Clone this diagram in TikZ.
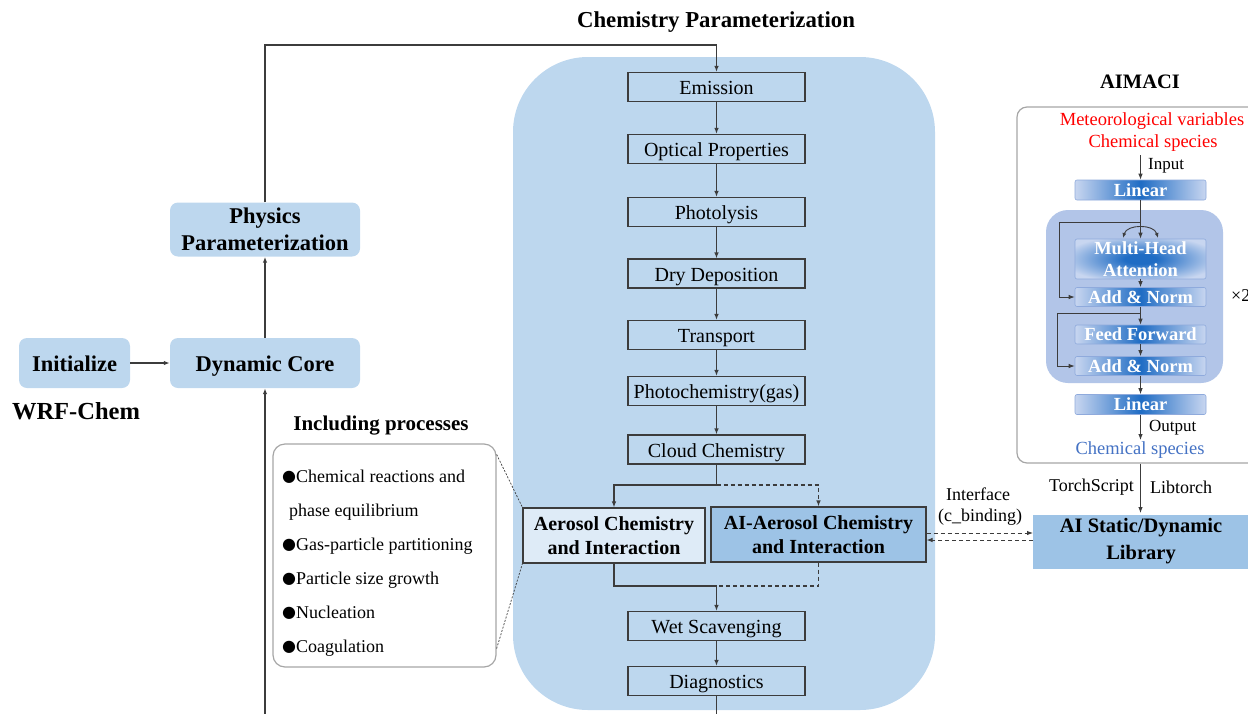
\documentclass[tikz,border=0pt]{standalone}
\usepackage{fontspec}
\setmainfont{Liberation Serif}
\newfontfamily\symfont{DejaVu Sans}
\usetikzlibrary{arrows.meta,calc}
\definecolor{bgblue}{HTML}{BDD7EE}
\definecolor{aiblue}{HTML}{9DC3E6}
\definecolor{lightbox}{HTML}{DEEBF7}
\definecolor{innerblue}{HTML}{B2C5E8}
\definecolor{gradlight}{HTML}{C8D6F0}
\definecolor{graddark}{HTML}{1F6CC4}
\definecolor{gradborder}{HTML}{8FAADC}
\definecolor{linegray}{HTML}{3C3C3C}
\definecolor{redtxt}{HTML}{FF0000}
\definecolor{bluetxt}{HTML}{4472C4}
\definecolor{boxgray}{HTML}{A6A6A6}
\pgfdeclareradialshading{mhashade}{\pgfpoint{0bp}{0bp}}{color(0bp)=(graddark); color(6bp)=(graddark); color(30bp)=(gradlight); color(50bp)=(gradlight)}
\newcommand\myfs[2]{\fontsize{#1}{#2}\selectfont}
\newcommand\bul{\raisebox{1pt}{\symfont\myfs{16}{16}●}}
\begin{document}
\begin{tikzpicture}[x=1pt,y=-1pt,
  tip/.style={-{Latex[length=6pt,width=4.5pt]}},
  conn/.style={draw=linegray, line width=1.2pt, tip},
  plain/.style={draw=linegray, line width=1.2pt},
  dashline/.style={dash pattern=on 4pt off 3pt},
  proc/.style={draw=linegray, line width=1.1pt, fill=bgblue, minimum width=177pt, minimum height=29pt, inner sep=0pt, text height=15.6pt, text depth=0pt, font={\myfs{20}{24}}},
  aerbox/.style={draw=linegray, line width=1.1pt, minimum height=55pt, inner sep=0pt, align=center, font={\bfseries\myfs{20}{24}}},
  lnode/.style={fill=bgblue, rounded corners=8pt, minimum height=50pt, inner sep=0pt, align=center, font={\bfseries\myfs{22.5}{27}}},
  gbox/.style={draw=gradborder, line width=0.6pt, rounded corners=2pt, left color=gradlight, right color=gradlight, middle color=graddark, text=white, minimum width=131pt, minimum height=19pt, inner sep=0pt, align=center, font={\bfseries\myfs{18.5}{22}}},
  small/.style={font={\myfs{17}{20}}, inner sep=0pt},
  listtxt/.style={anchor=base west, inner sep=0pt, font={\myfs{18}{20}}},
  dotline/.style={draw=linegray, line width=0.7pt, dash pattern=on 2pt off 1.5pt}
]
\useasboundingbox (0,0) rectangle (1248,713);

% ---------- Chemistry parameterization ----------
\node[fill=bgblue, rounded corners=75pt, minimum width=422pt, minimum height=653pt, inner sep=0pt] (chem) at (724,383.5) {};
\node[inner sep=0pt, font={\bfseries\myfs{22.8}{26}}] (ctitle) at (716,22) {Chemistry Parameterization};

\node[proc] (emis)  at (716.5,87)    {Emission};
\node[proc] (opt)   at (716.5,149)   {Optical Properties};
\node[proc] (phot)  at (716.5,212)   {Photolysis};
\node[proc] (dry)   at (716.5,273.5) {Dry Deposition};
\node[proc] (trans) at (716.5,335)   {Transport};
\node[proc] (pchem) at (716.5,391)   {Photochemistry(gas)};
\node[proc] (cloud) at (716.5,449.5) {Cloud Chemistry};
\node[proc] (wet)   at (716.5,626)   {Wet Scavenging};
\node[proc] (diag)  at (716.5,681)   {Diagnostics};

\node[aerbox, fill=lightbox, minimum width=182pt] (aer) at (614,535.5) {Aerosol Chemistry\\and Interaction};
\node[aerbox, fill=aiblue, minimum width=215pt] (ai) at (818.5,534.5) {AI-Aerosol Chemistry\\and Interaction};

\draw[conn] (emis) -- (opt);
\draw[conn] (opt) -- (phot);
\draw[conn] (phot) -- (dry);
\draw[conn] (dry) -- (trans);
\draw[conn] (trans) -- (pchem);
\draw[conn] (pchem) -- (cloud);
\coordinate (split) at (716.5,485);
\coordinate (merge) at (716.5,586);
\draw[plain] (cloud.south) -- (split);
\draw[conn] (split) -| (aer.north);
\draw[conn, dashline] (split) -| (ai.north);
\draw[plain] (aer.south) |- (merge);
\draw[plain, dashline] (ai.south) |- (merge);
\draw[conn] (merge) -- (wet.north);
\draw[conn] (wet) -- (diag);
\coordinate (diagend) at (716.5,720);
\draw[plain] (diag.south) -- (diagend);

% ---------- WRF-Chem left ----------
\node[lnode, minimum width=111pt, text height=17.4pt, text depth=0pt] (init) at (74.5,363) {Initialize};
\node[lnode, minimum width=190pt, text height=17.4pt, text depth=0pt] (dyn) at (265,363) {Dynamic Core};
\node[lnode, minimum width=190pt, minimum height=54pt] (phys) at (265,229.5) {Physics\\Parameterization};
\node[inner sep=0pt, font={\bfseries\myfs{24.5}{28}}] (wrf) at (76,411) {WRF-Chem};

\draw[conn] (init) -- (dyn);
\draw[conn] (dyn) -- (phys);
\coordinate (leftbot) at (265,720);
\draw[conn] (leftbot) -- (dyn.south);
\coordinate (topcorner) at (265,45);
\draw[conn] (phys.north) -- (topcorner) -| (emis.north);

% ---------- Including processes ----------
\node[inner sep=0pt, font={\bfseries\myfs{21}{24}}] (inctitle) at (381,426) {Including processes};
\node[draw=boxgray, line width=1.2pt, fill=white, rounded corners=12pt, minimum width=223pt, minimum height=223pt, inner sep=0pt] (list) at (384.5,555.5) {};
\node[listtxt] (li1) at (282,482) {\bul Chemical reactions and};
\node[listtxt] (li2) at (289,516) {phase equilibrium};
\node[listtxt] (li3) at (282,550) {\bul Gas-particle partitioning};
\node[listtxt] (li4) at (282,584) {\bul Particle size growth};
\node[listtxt] (li5) at (282,618) {\bul Nucleation};
\node[listtxt] (li6) at (282,652) {\bul Coagulation};
\draw[dotline] ($(list.north east)+(0,11)$) -- (aer.north west);
\draw[dotline] ($(list.south east)+(0,-19)$) -- (aer.south west);

% ---------- AIMACI ----------
\node[inner sep=0pt, font={\bfseries\myfs{20.5}{24}}] (aimtitle) at (1140,82) {AIMACI};
\node[draw=boxgray, line width=1.2pt, fill=white, rounded corners=10pt, minimum width=248pt, minimum height=356pt, inner sep=0pt] (aim) at (1141,285) {};
\node[fill=innerblue, rounded corners=22pt, minimum width=177pt, minimum height=173pt, inner sep=0pt] (inner) at (1134.5,296.5) {};

\node[inner sep=0pt, text=redtxt, font={\myfs{18.5}{22}}] (met) at (1152,121) {Meteorological variables};
\node[inner sep=0pt, text=redtxt, font={\myfs{18.5}{22}}] (chin) at (1153,143) {Chemical species};

\node[gbox, minimum height=20pt] (lin1) at (1140.5,190) {Linear};
\node[gbox, minimum height=40pt, shading=mhashade] (mha) at (1140.5,259) {Multi-Head\\Attention};
\node[gbox] (an1) at (1140.5,297) {Add \& Norm};
\node[gbox] (ff) at (1140.5,334.5) {Feed Forward};
\node[gbox] (an2) at (1140.5,366) {Add \& Norm};
\node[gbox, minimum height=20pt] (lin2) at (1140.5,404.5) {Linear};

\coordinate (intop) at (1140.5,155);
\draw[conn, line width=0.9pt] (intop) -- (lin1.north);
\node[small, anchor=west] (inlbl) at (1148,166) {Input};
\coordinate (outbot) at (1140.5,440);
\draw[conn, line width=0.9pt] (lin2.south) -- (outbot);
\node[small, anchor=west] (outlbl) at (1149,428) {Output};
\node[inner sep=0pt, text=bluetxt, font={\myfs{18.5}{22}}] (chout) at (1140,450) {Chemical species};

\draw[conn, line width=0.9pt] (lin1.south) -- (mha.north);
\draw[conn, line width=0.9pt] (mha.south) -- (an1.north);
\draw[conn, line width=0.9pt] (an1.south) -- (ff.north);
\draw[conn, line width=0.9pt] (ff.south) -- (an2.north);
\draw[conn, line width=0.9pt] (an2.south) -- (lin2.north);

\coordinate (r1a) at (1140.5,222);
\coordinate (r1b) at (1059,222);
\draw[conn, line width=0.9pt] (r1a) -- (r1b) |- (an1.west);
\coordinate (r2a) at (1140.5,313);
\coordinate (r2b) at (1057,313);
\draw[conn, line width=0.9pt] (r2a) -- (r2b) |- (an2.west);

\coordinate (arcL) at (1123,238);
\coordinate (arcR) at (1158,238);
\draw[draw=linegray, line width=0.9pt, {Latex[length=5pt,width=4pt]}-{Latex[length=5pt,width=4pt]}] (arcL) .. controls (1127,224) and (1154,224) .. (arcR);

\node[small, anchor=west, font={\myfs{18}{20}}] (times) at (1231,296) {×2};

% ---------- Library ----------
\node[fill=aiblue, minimum width=216pt, minimum height=54pt, inner sep=0pt, align=center, font={\bfseries\myfs{20.5}{27}}] (lib) at (1141,541.5) {AI Static/Dynamic\\Library};
\draw[conn, line width=0.9pt] (lin2.south |- aim.south) -- (lin2.south |- 0,513);
\node[small, anchor=east, font={\myfs{18}{20}}] (ts) at (1134,487) {TorchScript};
\node[small, anchor=west, font={\myfs{18}{20}}] (lt) at (1150,487) {Libtorch};

\coordinate (up) at (980,533);
\coordinate (lo) at (980,540);
\draw[conn, dashline, line width=0.9pt] (ai.east |- up) -- (1033,533);
\draw[conn, dashline, line width=0.9pt] (1033,540) -- (ai.east |- lo);
\node[small, font={\myfs{18}{20}}] (ifc) at (978,494) {Interface};
\node[small, font={\myfs{18}{20}}] (cb) at (980,517) {(c\_binding)};
\end{tikzpicture}
\end{document}
